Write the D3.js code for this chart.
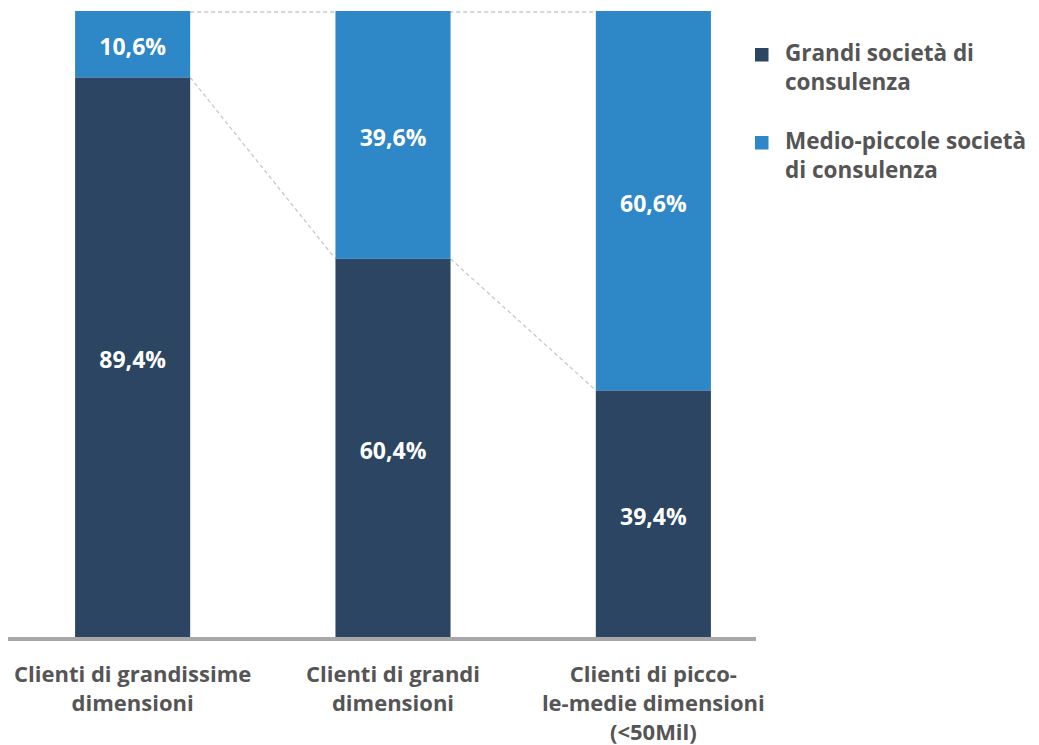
<!DOCTYPE html>
<html><head><meta charset="utf-8">
<script src="https://cdn.jsdelivr.net/npm/d3@7"></script>
<style>
html,body{margin:0;padding:0;background:#fff;}
svg text{font-family:"Open Sans",sans-serif;font-weight:700;}
</style></head>
<body>
<svg id="chart" width="1039" height="745"></svg>
<script>
const categories = [
  ["Clienti di grandissime","dimensioni"],
  ["Clienti di grandi","dimensioni"],
  ["Clienti di picco-","le-medie dimensioni","(<50Mil)"]
];
const seriesNames = [
  ["Grandi società di","consulenza"],
  ["Medio-piccole società","di consulenza"]
];
const grandi = [89.4, 60.4, 39.4];
const medioPiccole = [10.6, 39.6, 60.6];
const colors = ["#2b4562", "#2e87c6"];

const svg = d3.select("#chart");
const fmt = v => d3.format(".1f")(v).replace(".", ",") + "%";

const x = d3.scaleBand().domain(d3.range(categories.length)).range([10, 776]).paddingInner(0.558).paddingOuter(0.25);
const y = d3.scaleLinear().domain([0, 100]).range([637, 11]);

const data = categories.map((c, i) => ({i, g: grandi[i], m: medioPiccole[i]}));

// connector dashed lines
const conn = svg.append("g").attr("stroke", "#c8c8c8").attr("stroke-width", 1.3).attr("stroke-dasharray", "4,3").attr("fill", "none");
for (let i = 0; i < data.length - 1; i++) {
  conn.append("line")
    .attr("x1", x(i) + x.bandwidth()).attr("y1", y(data[i].g))
    .attr("x2", x(i + 1)).attr("y2", y(data[i + 1].g));
}
conn.append("line")
  .attr("x1", x(0) + x.bandwidth()).attr("y1", y(100) + 1)
  .attr("x2", x(data.length - 1)).attr("y2", y(100) + 1);

// bars
const bars = svg.append("g");
data.forEach(d => {
  bars.append("rect").attr("x", x(d.i)).attr("width", x.bandwidth())
    .attr("y", y(d.g)).attr("height", y(0) - y(d.g)).attr("fill", colors[0]);
  bars.append("rect").attr("x", x(d.i)).attr("width", x.bandwidth())
    .attr("y", y(d.g + d.m)).attr("height", y(d.g) - y(d.g + d.m)).attr("fill", colors[1]);
  bars.append("text").attr("x", x(d.i) + x.bandwidth() / 2).attr("y", y(d.g / 2) + 3)
    .attr("dy", "0.35em").attr("text-anchor", "middle").attr("fill", "#fff")
    .attr("font-size", 23).text(fmt(d.g));
  bars.append("text").attr("x", x(d.i) + x.bandwidth() / 2).attr("y", y(d.g + d.m / 2) + 3)
    .attr("dy", "0.35em").attr("text-anchor", "middle").attr("fill", "#fff")
    .attr("font-size", 23).text(fmt(d.m));
});

// baseline
svg.append("line").attr("x1", 8).attr("x2", 756).attr("y1", 639).attr("y2", 639)
  .attr("stroke", "#a8a8a8").attr("stroke-width", 4);

// category labels
const lab = svg.append("g");
categories.forEach((lines, i) => {
  const t = lab.append("text").attr("text-anchor", "middle").attr("fill", "#555")
    .attr("font-size", 22);
  lines.forEach((l, k) => {
    t.append("tspan").attr("x", x(i) + x.bandwidth() / 2).attr("y", 682 + k * 29).text(l);
  });
});

// legend
const leg = svg.append("g");
seriesNames.forEach((lines, i) => {
  const y0 = 61 + i * 88;
  leg.append("rect").attr("x", 755).attr("y", y0 - 13).attr("width", 13.5).attr("height", 13.5).attr("fill", colors[i]);
  const t = leg.append("text").attr("fill", "#555").attr("font-size", 22.5);
  lines.forEach((l, k) => {
    t.append("tspan").attr("x", 785).attr("y", y0 + k * 29).text(l);
  });
});
</script>
</body></html>
